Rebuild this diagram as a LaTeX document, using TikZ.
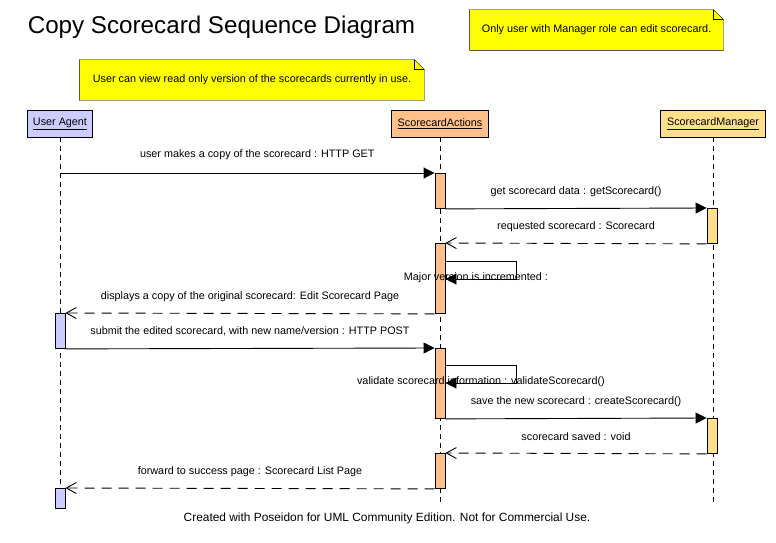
\documentclass[tikz,border=0pt]{standalone}
\usepackage{fontspec}
\setmainfont{Liberation Sans}
\usepackage{tikz}
\usetikzlibrary{arrows.meta,positioning,calc,backgrounds}
\definecolor{uablue}{RGB}{204,204,255}
\definecolor{saorange}{RGB}{255,192,138}
\definecolor{smyellow}{RGB}{255,224,138}
\definecolor{noteyellow}{RGB}{255,255,0}

\begin{document}
\begin{tikzpicture}[
  x=1pt, y=-1pt,
  font=\fontsize{10.8}{13}\selectfont,
  line width=0.9pt,
  actor/.style={draw, minimum height=27pt, inner sep=0pt, align=center},
  act/.style={draw, minimum width=10pt, inner sep=0pt, anchor=north},
  note/.style={minimum height=40pt, inner sep=0pt},
  notebg/.style={draw, fill=noteyellow},
  life/.style={dash pattern=on 5pt off 4pt},
  call/.style={-{Triangle[length=11pt, width=11pt]}},
  ret/.style={-{Straight Barb[length=10pt, width=11pt]}, dash pattern=on 10pt off 7pt},
  lbl/.style={midway, yshift=17pt}
]
\useasboundingbox (0,0) rectangle (776,543);

\node[font=\fontsize{24.2}{29}\selectfont] (title) at (221.5,27) {Copy Scorecard Sequence Diagram};
\node[note, minimum width=344pt] (noteView) at (252,80) {User can view read only version of the scorecards currently in use.};
\node[note, minimum width=253pt] (noteRole) at (596.5,30) {Only user with Manager role can edit scorecard.};
\begin{scope}[on background layer]
  \draw[notebg] (noteView.south west) -- (noteView.north west) -- ([xshift=-10pt]noteView.north east) -- ([yshift=-10pt]noteView.north east) -- (noteView.south east) -- cycle;
  \draw ([xshift=-10pt]noteView.north east) |- ([yshift=-10pt]noteView.north east);
  \draw[notebg] (noteRole.south west) -- (noteRole.north west) -- ([xshift=-10pt]noteRole.north east) -- ([yshift=-10pt]noteRole.north east) -- (noteRole.south east) -- cycle;
  \draw ([xshift=-10pt]noteRole.north east) |- ([yshift=-10pt]noteRole.north east);
\end{scope}

% lifelines
\node[actor, fill=uablue, minimum width=65pt] (ua) at (60,123.5) {\underline{User Agent}};
\node[actor, fill=saorange, minimum width=97pt] (sa) at (440,123.5) {\underline{ScorecardActions}};
\node[actor, fill=smyellow, minimum width=105pt] (sm) at (713,123.5) {\underline{ScorecardManager}};
\coordinate (uaEnd) at (60,508);
\coordinate (saEnd) at (440,504);
\coordinate (smEnd) at (713,504);
\draw[life] (ua) -- (uaEnd);
\draw[life] (sa) -- (saEnd);
\draw[life] (sm) -- (smEnd);

% activations
\node[act, fill=uablue, minimum height=35pt] (uaA) at (60,313) {};
\node[act, fill=uablue, minimum height=20pt] (uaB) at (60,488) {};
\node[act, fill=saorange, minimum height=35pt] (saA) at (440,173) {};
\node[act, fill=saorange, minimum height=70pt] (saB) at (440,243) {};
\node[act, fill=saorange, minimum height=70pt] (saC) at (440,348) {};
\node[act, fill=saorange, minimum height=35pt] (saD) at (440,453) {};
\node[act, fill=smyellow, minimum height=35pt] (smA) at (712,208) {};
\node[act, fill=smyellow, minimum height=35pt] (smB) at (712,418) {};

% messages
\draw[call] (ua |- saA.north west) -- node[lbl, yshift=1pt, xshift=10pt] {user makes a copy of the scorecard : HTTP GET} (saA.north west);
\draw[call] (saA.south east) -- node[lbl] {get scorecard data : getScorecard()} (smA.north west);
\draw[ret] (smA.south west) -- node[lbl] {requested scorecard : Scorecard} (saB.north east);
\draw[call] ([yshift=-18pt]saB.north east) -- ++(71,0) -- ++(0,18) -- node[midway, yshift=1pt, xshift=-5pt] {Major version is incremented :} ([yshift=-36pt]saB.north east);
\draw[ret] (saB.south west) -- node[lbl] {displays a copy of the original scorecard: Edit Scorecard Page} (uaA.north east);
\draw[call] (uaA.south east) -- node[lbl] {submit the edited scorecard, with new name/version : HTTP POST} (saC.north west);
\draw[call] ([yshift=-17pt]saC.north east) -- ++(71,0) -- ++(0,18) -- node[midway, yshift=1pt] {validate scorecard information : validateScorecard()} ([yshift=-35pt]saC.north east);
\draw[call] (saC.south east) -- node[lbl] {save the new scorecard : createScorecard()} (smB.north west);
\draw[ret] (smB.south west) -- node[lbl] {scorecard saved : void} (saD.north east);
\draw[ret] (saD.south west) -- node[lbl] {forward to success page : Scorecard List Page} (uaB.north east);

\node[font=\fontsize{11.9}{14}\selectfont] (footer) at (387,518) {Created with Poseidon for UML Community Edition. Not for Commercial Use.};
\end{tikzpicture}
\end{document}
